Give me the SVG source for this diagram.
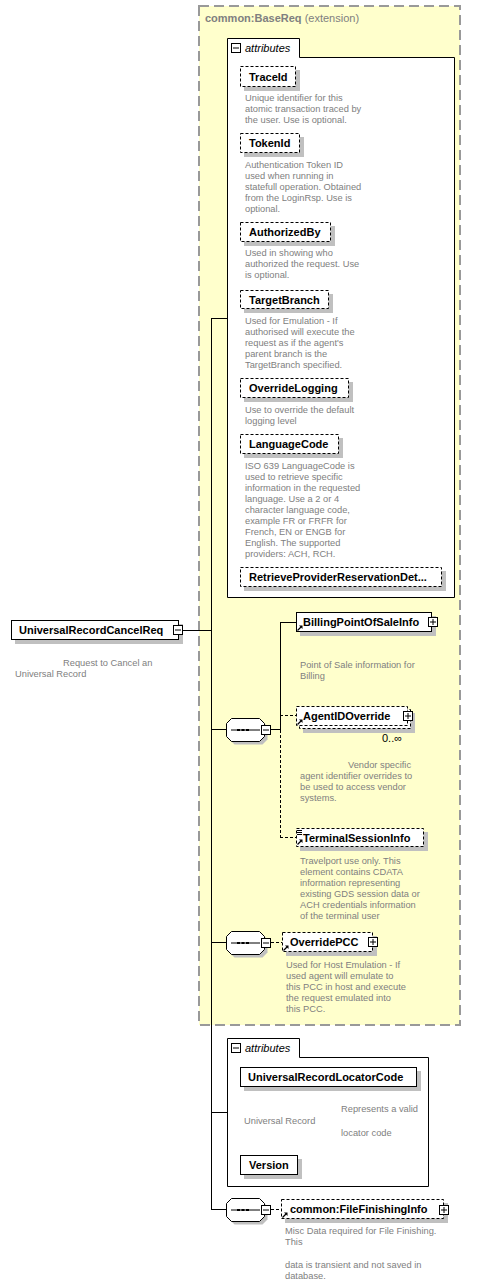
<svg xmlns="http://www.w3.org/2000/svg" width="478" height="1286" viewBox="0 0 478 1286">
<style>
.box{fill:#fff;stroke:#000;stroke-width:1}
.opt{fill:#fff;stroke:#000;stroke-width:1;stroke-dasharray:3,2}
.sh{fill:#c0c0c0}
.lbl{font-family:"Liberation Sans",Arial,sans-serif;font-weight:bold;font-size:11px;fill:#000}
.desc{font-family:"Liberation Sans",Arial,sans-serif;font-size:9.3px;fill:#808080}
.ital{font-family:"Liberation Sans",Arial,sans-serif;font-style:italic;font-size:11px;fill:#000}
.ln{stroke:#000;stroke-width:1;fill:none}
.dl{stroke:#000;stroke-width:1;fill:none;stroke-dasharray:3,2}
.frame{fill:#fff;stroke:#000;stroke-width:1}
</style>
<defs>
<g id="minus"><rect x="0.5" y="0.5" width="9" height="9" fill="#fff" stroke="#000"/><path d="M2,5H8" stroke="#000"/></g>
<g id="plus"><rect x="0.5" y="0.5" width="9" height="9" fill="#fff" stroke="#000"/><path d="M2,5H8M5,2V8" stroke="#000"/></g>
<g id="arr"><path d="M0.5,5.5L4,2" stroke="#000" stroke-width="1.2"/><polygon points="2,0.5 5.5,0.5 5.5,4" fill="#000"/></g>
<g id="seq"><path d="M8.5,3.5H36.5L41.5,8.5V21.5L36.5,26.5H8.5L3.5,21.5V8.5Z" fill="#c0c0c0"/><path d="M5.5,0.5H33.5L38.5,5.5V18.5L33.5,23.5H5.5L0.5,18.5V5.5Z" fill="#fff" stroke="#000"/><path d="M5,12H34" stroke="#000"/><rect x="11" y="11" width="3" height="2" fill="#000"/><rect x="15.5" y="11" width="3" height="2" fill="#000"/><rect x="20" y="11" width="3" height="2" fill="#000"/></g>
</defs>
<rect width="478" height="1286" fill="#fff"/>

<g id="extension">
<rect x="199" y="6" width="261" height="1019" fill="#ffffcc" stroke="#999" stroke-width="2" stroke-dasharray="10,5"/>
<text x="205" y="22" font-family="Liberation Sans,Arial,sans-serif" font-size="11" font-weight="bold" fill="#808080">common:BaseReq <tspan font-weight="normal">(extension)</tspan></text>
</g>

<g id="connectors">
<path class="ln" d="M183,630.5H211.5M211.5,318V1210M211,318.5H227M211,729.5H226M211,942.5H227M211,1112.5H227M211,1209.5H226"/>
<path class="ln" d="M271,729.5H280.5M280.5,622V730M280,622.5H296"/>
<path class="dl" d="M280.5,730V837.5M280,715.5H296M280,837.5H296"/>
<path class="dl" d="M271,942.5H282"/>
<path class="dl" d="M271,1209.5H281"/>
</g>

<g id="UniversalRecordCancelReq">
<rect class="sh" x="15" y="624" width="168" height="20"/>
<rect class="box" x="11.5" y="620.5" width="167" height="19"/>
<text class="lbl" x="19" y="634">UniversalRecordCancelReq</text>
<use href="#minus" x="173" y="625"/>
<text class="desc" x="63" y="666">Request to Cancel an</text>
<text class="desc" x="15" y="677">Universal Record</text>
</g>

<g id="attributes1">
<path class="frame" d="M227.5,38.5H299.5V57.5H454.5V597.5H227.5Z"/>
<use href="#minus" x="231" y="43"/>
<text class="ital" x="245" y="52">attributes</text>
</g>

<g id="TraceId">
<rect class="sh" x="244" y="70" width="56" height="21"/>
<rect class="opt" x="240.5" y="66.5" width="55" height="20"/>
<text class="lbl" x="249" y="81">TraceId</text>
<text class="desc" x="245" y="101">Unique identifier for this</text>
<text class="desc" x="245" y="112">atomic transaction traced by</text>
<text class="desc" x="245" y="123">the user. Use is optional.</text>
</g>

<g id="TokenId">
<rect class="sh" x="244" y="137" width="60" height="20"/>
<rect class="opt" x="240.5" y="133.5" width="59" height="19"/>
<text class="lbl" x="249" y="147">TokenId</text>
<text class="desc" x="245" y="168">Authentication Token ID</text>
<text class="desc" x="245" y="179">used when running in</text>
<text class="desc" x="245" y="190">statefull operation. Obtained</text>
<text class="desc" x="245" y="201">from the LoginRsp. Use is</text>
<text class="desc" x="245" y="212">optional.</text>
</g>

<g id="AuthorizedBy">
<rect class="sh" x="244" y="226" width="91" height="20"/>
<rect class="opt" x="240.5" y="222.5" width="90" height="19"/>
<text class="lbl" x="249" y="236">AuthorizedBy</text>
<text class="desc" x="245" y="256">Used in showing who</text>
<text class="desc" x="245" y="267">authorized the request. Use</text>
<text class="desc" x="245" y="278">is optional.</text>
</g>

<g id="TargetBranch">
<rect class="sh" x="244" y="294" width="89" height="19"/>
<rect class="opt" x="240.5" y="290.5" width="88" height="18"/>
<text class="lbl" x="249" y="304">TargetBranch</text>
<text class="desc" x="245" y="324">Used for Emulation - If</text>
<text class="desc" x="245" y="335">authorised will execute the</text>
<text class="desc" x="245" y="346">request as if the agent's</text>
<text class="desc" x="245" y="357">parent branch is the</text>
<text class="desc" x="245" y="368">TargetBranch specified.</text>
</g>

<g id="OverrideLogging">
<rect class="sh" x="244" y="382" width="109" height="20"/>
<rect class="opt" x="240.5" y="378.5" width="108" height="19"/>
<text class="lbl" x="249" y="392">OverrideLogging</text>
<text class="desc" x="245" y="413">Use to override the default</text>
<text class="desc" x="245" y="424">logging level</text>
</g>

<g id="LanguageCode">
<rect class="sh" x="244" y="438" width="99" height="20"/>
<rect class="opt" x="240.5" y="434.5" width="98" height="19"/>
<text class="lbl" x="249" y="448">LanguageCode</text>
<text class="desc" x="245" y="469">ISO 639 LanguageCode is</text>
<text class="desc" x="245" y="480">used to retrieve specific</text>
<text class="desc" x="245" y="491">information in the requested</text>
<text class="desc" x="245" y="502">language.  Use a 2 or 4</text>
<text class="desc" x="245" y="513">character language code,</text>
<text class="desc" x="245" y="524">example FR or FRFR for</text>
<text class="desc" x="245" y="535">French, EN or ENGB for</text>
<text class="desc" x="245" y="546">English.  The supported</text>
<text class="desc" x="245" y="557">providers: ACH, RCH.</text>
</g>

<g id="RetrieveProviderReservationDetails">
<rect class="sh" x="244" y="571" width="202" height="20"/>
<rect class="opt" x="240.5" y="567.5" width="201" height="19"/>
<text class="lbl" x="249" y="581">RetrieveProviderReservationDet...</text>
</g>

<g id="sequence1">
<use href="#seq" x="226" y="718"/>
<use href="#minus" x="261" y="725"/>
</g>

<g id="BillingPointOfSaleInfo">
<rect class="sh" x="300" y="616" width="136" height="20"/>
<rect class="box" x="296.5" y="612.5" width="135" height="19"/>
<use href="#arr" x="297" y="625"/>
<text class="lbl" x="303" y="626">BillingPointOfSaleInfo</text>
<use href="#plus" x="428" y="617"/>
<text class="desc" x="300" y="668">Point of Sale information for</text>
<text class="desc" x="300" y="679">Billing</text>
</g>

<g id="AgentIDOverride">
<rect class="sh" x="303" y="713" width="112" height="20"/>
<rect class="opt" x="299.5" y="709.5" width="111" height="19"/>
<rect class="opt" x="296.5" y="706.5" width="111" height="19"/>
<use href="#arr" x="297" y="719"/>
<text class="lbl" x="303" y="720">AgentIDOverride</text>
<use href="#plus" x="403" y="711"/>
<text x="382" y="742" font-family="Liberation Sans,Arial,sans-serif" font-size="11" fill="#000">0..∞</text>
<text class="desc" x="348" y="768">Vendor specific</text>
<text class="desc" x="300" y="779">agent identifier overrides to</text>
<text class="desc" x="300" y="790">be used to access vendor</text>
<text class="desc" x="300" y="801">systems.</text>
</g>

<g id="TerminalSessionInfo">
<rect class="sh" x="300" y="832" width="128" height="19"/>
<rect class="opt" x="296.5" y="828.5" width="127" height="18"/>
<path d="M297,830.5H302M297,832.5H302M297,834.5H302" stroke="#000"/>
<use href="#arr" x="297" y="839"/>
<text class="lbl" x="303" y="842">TerminalSessionInfo</text>
<text class="desc" x="300" y="864">Travelport use only. This</text>
<text class="desc" x="300" y="875">element contains CDATA</text>
<text class="desc" x="300" y="886">information representing</text>
<text class="desc" x="300" y="897">existing GDS session data or</text>
<text class="desc" x="300" y="908">ACH credentials information</text>
<text class="desc" x="300" y="919">of the terminal user</text>
</g>

<g id="sequence2">
<use href="#seq" x="226" y="931"/>
<use href="#minus" x="261" y="938"/>
</g>

<g id="OverridePCC">
<rect class="sh" x="286" y="936" width="91" height="20"/>
<rect class="opt" x="282.5" y="932.5" width="90" height="19"/>
<use href="#arr" x="283" y="945"/>
<text class="lbl" x="290" y="946">OverridePCC</text>
<use href="#plus" x="368" y="937"/>
<text class="desc" x="286" y="968">Used for Host Emulation - If</text>
<text class="desc" x="286" y="979">used agent will emulate to</text>
<text class="desc" x="286" y="990">this PCC in host and execute</text>
<text class="desc" x="286" y="1001">the request emulated into</text>
<text class="desc" x="286" y="1012">this PCC.</text>
</g>

<g id="attributes2">
<path class="frame" d="M227.5,1038.5H299.5V1057.5H428.5V1186.5H227.5Z"/>
<use href="#minus" x="231" y="1043"/>
<text class="ital" x="245" y="1052">attributes</text>
</g>

<g id="UniversalRecordLocatorCode">
<rect class="sh" x="244" y="1071" width="177" height="20"/>
<rect class="box" x="240.5" y="1067.5" width="176" height="19"/>
<text class="lbl" x="248" y="1081">UniversalRecordLocatorCode</text>
<text class="desc" x="341" y="1112">Represents a valid</text>
<text class="desc" x="244" y="1124">Universal Record</text>
<text class="desc" x="341" y="1136">locator code</text>
</g>

<g id="Version">
<rect class="sh" x="244" y="1159" width="58" height="20"/>
<rect class="box" x="240.5" y="1155.5" width="57" height="19"/>
<text class="lbl" x="249" y="1169">Version</text>
</g>

<g id="sequence3">
<use href="#seq" x="226" y="1198"/>
<use href="#minus" x="261" y="1205"/>
</g>

<g id="FileFinishingInfo">
<rect class="sh" x="285" y="1203" width="163" height="20"/>
<rect class="opt" x="281.5" y="1199.5" width="162" height="19"/>
<use href="#arr" x="282" y="1212"/>
<text class="lbl" x="290" y="1213">common:FileFinishingInfo</text>
<use href="#plus" x="439" y="1205"/>
<text class="desc" x="285" y="1234">Misc Data required for File Finishing.</text>
<text class="desc" x="285" y="1245">This</text>
<text class="desc" x="285" y="1268">data is transient and not saved in</text>
<text class="desc" x="285" y="1279">database.</text>
</g>
</svg>
